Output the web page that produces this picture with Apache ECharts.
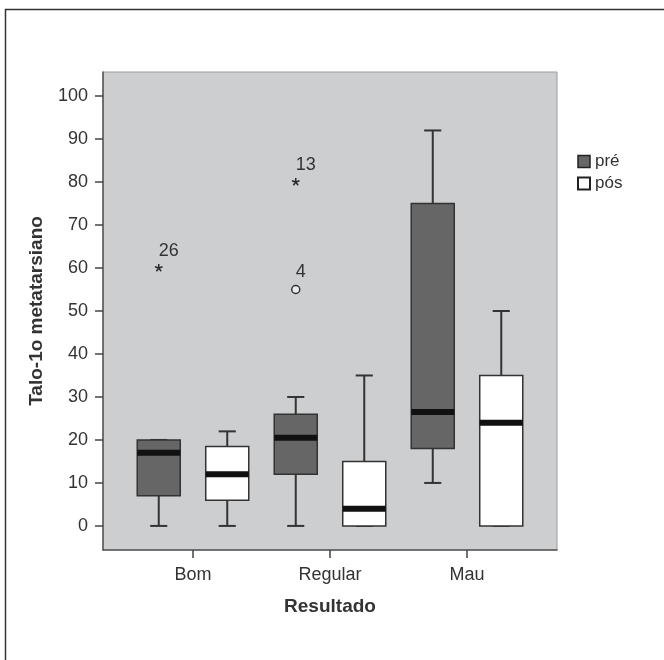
<!DOCTYPE html>
<html>
<head>
<meta charset="utf-8">
<script src="https://cdn.jsdelivr.net/npm/echarts@6/dist/echarts.min.js"></script>
<style>html,body{margin:0;padding:0;background:#fff;}#c{width:664px;height:660px;}</style>
</head>
<body>
<div id="c"></div>
<script>
// ---- data ----
const categories = ['Bom', 'Regular', 'Mau'];
const preMin = [0, 0, 10];
const preQ1  = [7, 12, 18];
const preMed = [17, 20.5, 26.5];
const preQ3  = [20, 26, 75];
const preMax = [20, 30, 92];
const posMin = [0, 0, 0];
const posQ1  = [6, 0, 0];
const posMed = [12, 4, 24];
const posQ3  = [18.5, 15, 35];
const posMax = [22, 35, 50];
const outlierCat   = ['Bom', 'Regular', 'Regular'];
const outlierVal   = [60, 80, 55];
const outlierLabel = ['26', '13', '4'];
const outlierShape = ['star', 'star', 'circle'];
const yTicks = [0, 10, 20, 30, 40, 50, 60, 70, 80, 90, 100];

const FONT = 'Liberation Sans, Arial, sans-serif';
const chart = echarts.init(document.getElementById('c'), null, {renderer: 'canvas'});

function boxData(mn, q1, md, q3, mx) {
  return categories.map((c, i) => [i, mn[i], q1[i], md[i], q3[i], mx[i]]);
}

function makeBoxRender(off, fill) {
  return function (params, api) {
    const i = api.value(0);
    const band = api.size([1, 0])[0];
    const cx = api.coord([i, 0])[0] + off * band;
    const Y = k => api.coord([i, api.value(k)])[1];
    const yMin = Y(1), yQ1 = Y(2), yMed = Y(3), yQ3 = Y(4), yMax = Y(5);
    const bw = band * 0.314, cw = band * 0.125;
    const ls = {stroke: '#333', lineWidth: 2, fill: null};
    return {
      type: 'group',
      children: [
        {type: 'line', shape: {x1: cx, y1: yMax, x2: cx, y2: yQ3}, style: ls},
        {type: 'line', shape: {x1: cx, y1: yQ1, x2: cx, y2: yMin}, style: ls},
        {type: 'line', shape: {x1: cx - cw / 2, y1: yMax, x2: cx + cw / 2, y2: yMax}, style: ls},
        {type: 'line', shape: {x1: cx - cw / 2, y1: yMin, x2: cx + cw / 2, y2: yMin}, style: ls},
        {type: 'rect', shape: {x: cx - bw / 2, y: yQ3, width: bw, height: yQ1 - yQ3},
          style: {fill: fill, stroke: '#333', lineWidth: 1.5}},
        {type: 'rect', shape: {x: cx - bw / 2, y: yMed - 3, width: bw, height: 6},
          style: {fill: '#111'}}
      ]
    };
  };
}

function outlierRender(params, api) {
  const i = api.value(0);
  const idx = api.value(2);
  const band = api.size([1, 0])[0];
  const cx = api.coord([i, 0])[0] - 0.25 * band;
  const cy = api.coord([i, api.value(1)])[1];
  const children = [];
  if (outlierShape[idx] === 'star') {
    const r = 4;
    [90, 18, 162, -54, -126].forEach(a => {
      const rad = a * Math.PI / 180;
      children.push({type: 'line', shape: {x1: cx, y1: cy, x2: cx + r * Math.cos(rad), y2: cy - r * Math.sin(rad)},
        style: {stroke: '#2a2a2a', lineWidth: 1.5}});
    });
  } else {
    children.push({type: 'circle', shape: {cx: cx, cy: cy, r: 4}, style: {fill: '#ececec', stroke: '#333', lineWidth: 1.5}});
  }
  children.push({type: 'text', style: {text: outlierLabel[idx], x: cx, y: cy - 8, align: 'left', verticalAlign: 'bottom',
    font: '18px ' + FONT, fill: '#333'}});
  return {type: 'group', children: children};
}

const option = {
  animation: false,
  backgroundColor: '#fff',
  graphic: [{
    type: 'rect', silent: true, z: 100,
    shape: {x: 5.5, y: 9.5, width: 900, height: 900},
    style: {fill: null, stroke: '#333', lineWidth: 1.5}
  }],
  grid: [
    {left: 103, top: 72, width: 454, height: 478, show: true, backgroundColor: '#cdcecf', borderColor: '#9a9a9a', borderWidth: 1},
    {left: 124.5, top: 72, width: 411, height: 478}
  ],
  xAxis: [
    {type: 'value', gridIndex: 0, min: 0, max: 1,
      axisLine: {show: true, onZero: false, lineStyle: {color: '#555', width: 1.5}},
      axisTick: {show: false}, axisLabel: {show: false}, splitLine: {show: false}},
    {type: 'category', gridIndex: 1, data: categories, boundaryGap: true,
      axisLine: {show: false, onZero: false},
      axisTick: {show: true, alignWithLabel: true, length: 8, lineStyle: {color: '#444', width: 1.5}},
      axisLabel: {fontSize: 18, color: '#333', margin: 16, fontFamily: FONT},
      name: 'Resultado', nameLocation: 'middle', nameGap: 47,
      nameTextStyle: {fontSize: 19, fontWeight: 'bold', color: '#333', fontFamily: FONT}}
  ],
  yAxis: [
    {type: 'value', gridIndex: 0, min: -5.6, max: 105.6,
      axisLine: {show: true, onZero: false, lineStyle: {color: '#555', width: 1.5}},
      axisTick: {show: true, length: 8, customValues: yTicks, lineStyle: {color: '#444', width: 1.5}},
      axisLabel: {customValues: yTicks, fontSize: 18, color: '#333', margin: 15, fontFamily: FONT},
      splitLine: {show: false},
      name: 'Talo-1o metatarsiano', nameLocation: 'middle', nameGap: 57,
      nameTextStyle: {fontSize: 19, fontWeight: 'bold', color: '#333', fontFamily: FONT}},
    {type: 'value', gridIndex: 1, min: -5.6, max: 105.6, show: false}
  ],
  legend: {
    orient: 'vertical', left: 572, top: 148, itemWidth: 12, itemHeight: 12, itemGap: 5,
    icon: 'rect', textStyle: {fontSize: 17, color: '#333', fontFamily: FONT},
    data: [
      {name: 'pré', itemStyle: {color: '#666', borderColor: '#222', borderWidth: 1.5}},
      {name: 'pós', itemStyle: {color: '#fff', borderColor: '#222', borderWidth: 2}}
    ]
  },
  series: [
    {name: 'pré', type: 'custom', xAxisIndex: 1, yAxisIndex: 1, itemStyle: {color: '#666'},
      data: boxData(preMin, preQ1, preMed, preQ3, preMax), encode: {x: 0, y: [1, 2, 3, 4, 5]},
      renderItem: makeBoxRender(-0.25, '#666666')},
    {name: 'pós', type: 'custom', xAxisIndex: 1, yAxisIndex: 1, itemStyle: {color: '#fff'},
      data: boxData(posMin, posQ1, posMed, posQ3, posMax), encode: {x: 0, y: [1, 2, 3, 4, 5]},
      renderItem: makeBoxRender(0.25, '#ffffff')},
    {name: 'outliers', type: 'custom', xAxisIndex: 1, yAxisIndex: 1,
      data: outlierVal.map((v, k) => [categories.indexOf(outlierCat[k]), v, k]), encode: {x: 0, y: 1},
      renderItem: outlierRender}
  ]
};
chart.setOption(option);
</script>
</body>
</html>
